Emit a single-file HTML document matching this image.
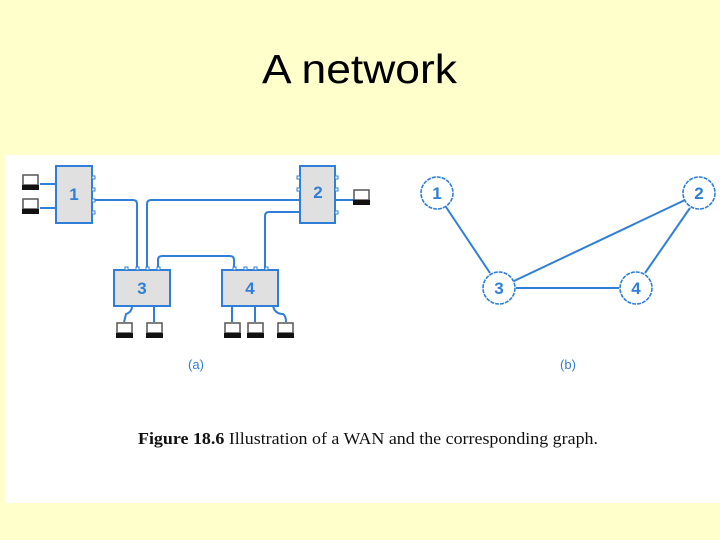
<!DOCTYPE html>
<html><head><meta charset="utf-8"><style>
body{margin:0;width:720px;height:540px;background:#ffffcc;overflow:hidden;font-family:"Liberation Sans",sans-serif}
</style></head><body>
<svg width="720" height="540" xmlns="http://www.w3.org/2000/svg" style="position:absolute;left:0;top:0">
<defs>
<g id="pc">
<rect x="0" y="0" width="15" height="10" fill="#fff" stroke="#555" stroke-width="1.5"/>
<rect x="-1" y="10" width="17" height="5" fill="#111"/>
</g>
</defs>
<text x="262" y="83" font-size="41" fill="#000" textLength="195" lengthAdjust="spacingAndGlyphs" font-family="Liberation Sans, sans-serif">A network</text>
<rect x="5" y="155" width="715" height="348" fill="#fff"/>
<g fill="none" stroke="#2f7fd8" stroke-width="2">
<path d="M92 200 H133 Q137 200 137 204 V270"/>
<path d="M147 270 V204 Q147 200 151 200 H300"/>
<path d="M300 212 H269 Q265 212 265 216 V270"/>
<path d="M158 270 V260 Q158 256 162 256 H230 Q234 256 234 260 V270"/>
<path d="M40 184 H56 M40 208 H56 M335 200 H355"/>
<path d="M132 306 Q132 312 126 314 L124 322 M154 306 V322 M232 306 V322 M255 306 V322 M273 306 Q275 314 283 314 Q286 316 286 322"/>
</g>
<g fill="#e0e0e0" stroke="#2f7fd8" stroke-width="2">
<rect x="56" y="166" width="36" height="57"/>
<rect x="300" y="166" width="35" height="57"/>
<rect x="114" y="270" width="56" height="36"/>
<rect x="222" y="270" width="56" height="36"/>
</g>
<g fill="#fff" stroke="#2f7fd8" stroke-width="1">
<rect x="92" y="176" width="3" height="3"/><rect x="92" y="188" width="3" height="3"/><rect x="92" y="199" width="3" height="3"/><rect x="92" y="211" width="3" height="3"/>
<rect x="297" y="176" width="3" height="3"/><rect x="297" y="188" width="3" height="3"/><rect x="335" y="176" width="3" height="3"/><rect x="335" y="188" width="3" height="3"/><rect x="335" y="211" width="3" height="3"/>
<rect x="125" y="267" width="3" height="3"/><rect x="136" y="267" width="3" height="3"/><rect x="146" y="267" width="3" height="3"/><rect x="157" y="267" width="3" height="3"/>
<rect x="233" y="267" width="3" height="3"/><rect x="244" y="267" width="3" height="3"/><rect x="254" y="267" width="3" height="3"/><rect x="265" y="267" width="3" height="3"/>
</g>
<g font-size="17" font-weight="bold" fill="#2f7fd8" text-anchor="middle">
<text x="74" y="200">1</text><text x="318" y="198">2</text><text x="142" y="294">3</text><text x="250" y="294">4</text>
</g>
<use href="#pc" x="23" y="175"/><use href="#pc" x="23" y="199"/><use href="#pc" x="354" y="190"/>
<use href="#pc" x="117" y="323"/><use href="#pc" x="147" y="323"/><use href="#pc" x="225" y="323"/><use href="#pc" x="248" y="323"/><use href="#pc" x="278" y="323"/>
<text x="196" y="369" font-size="13" fill="#2f7fd8" text-anchor="middle">(a)</text>
<g stroke="#2f7fd8" stroke-width="2">
<line x1="446" y1="207" x2="490" y2="273"/>
<line x1="514" y1="281" x2="685" y2="200"/>
<line x1="516" y1="288" x2="619" y2="288"/>
<line x1="690" y1="208" x2="645" y2="273"/>
</g>
<g fill="#fff" stroke="#2f7fd8" stroke-width="1.6" stroke-dasharray="4 1">
<circle cx="437" cy="193" r="16"/><circle cx="699" cy="193" r="16"/><circle cx="499" cy="288" r="16"/><circle cx="636" cy="288" r="16"/>
</g>
<g font-size="17" font-weight="bold" fill="#2f7fd8" text-anchor="middle">
<text x="437" y="199">1</text><text x="699" y="199">2</text><text x="499" y="294">3</text><text x="636" y="294">4</text>
</g>
<text x="568" y="369" font-size="13" fill="#2f7fd8" text-anchor="middle">(b)</text>
<text x="138" y="444" font-size="17" font-family="Liberation Serif, serif" fill="#111" textLength="460" lengthAdjust="spacingAndGlyphs"><tspan font-weight="bold">Figure 18.6</tspan>  Illustration of a WAN and the corresponding graph.</text>
</svg>
</body></html>
